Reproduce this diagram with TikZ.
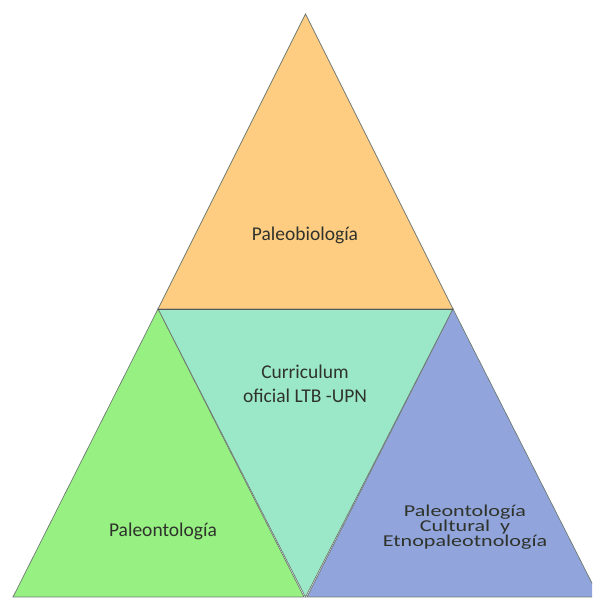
\documentclass[tikz,border=0pt]{standalone}
\usepackage{fontspec}
\setmainfont{Carlito}
\usepackage{graphicx}
\definecolor{orangefill}{HTML}{FFCD82}
\definecolor{greenfill}{HTML}{96F082}
\definecolor{tealfill}{HTML}{9BE8C8}
\definecolor{bluefill}{HTML}{91A5DC}
\definecolor{edgecol}{HTML}{6E7A72}
\definecolor{txtcol}{HTML}{2F332C}
\tikzset{
  x=1pt,y=1pt,
  tri/.style={draw=edgecol, line width=0.7pt, line join=miter},
  lbl/.style={text=txtcol, align=center, inner sep=0pt, font=\fontsize{19.5}{23.8}\selectfont},
  lblsmall/.style={text=txtcol, align=center, inner sep=0pt, font=\fontsize{16.6}{15}\selectfont}
}
\begin{document}
\begin{tikzpicture}
\useasboundingbox (0,0) rectangle (592,599);
\clip (0,0) rectangle (592,599);
\coordinate (apex) at (305.5,585);
\coordinate (tl) at (158,290);
\coordinate (tr) at (453,290);
\coordinate (bl) at (13,2);
\coordinate (gm) at (304,2);
\coordinate (tm) at (305.5,2);
\coordinate (bm) at (307,2);
\coordinate (br) at (599,2);
% middle inverted triangle
\filldraw[tri, fill=tealfill] (tl) -- (tr) -- (tm) -- cycle;
% left triangle
\filldraw[tri, fill=greenfill] (tl) -- (gm) -- (bl) -- cycle;
% right triangle
\filldraw[tri, fill=bluefill] (tr) -- (br) -- (bm) -- cycle;
% top triangle
\filldraw[tri, fill=orangefill] (apex) -- (tr) -- (tl) -- cycle;
\draw[draw=black!65, line width=0.9pt] (tl) -- (tr);
% labels
\node[lbl] (top) at (305,364) {Paleobiología};
\node[lbl] (mid) at (305,215.3) {Curriculum\\oficial LTB -UPN};
\node[lbl] (left) at (163,68) {Paleontología};
\node[lblsmall] (right) at (465,72) {\scalebox{1.33}[1]{Paleontología}\\\scalebox{1.33}[1]{Cultural~~y}\\\scalebox{1.33}[1]{Etnopaleotnología}};
\end{tikzpicture}
\end{document}
